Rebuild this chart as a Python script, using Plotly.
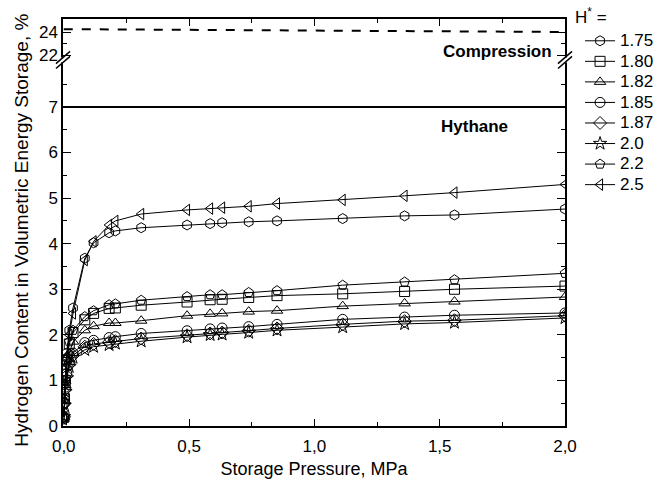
import plotly.graph_objects as go

# ---------------- data ----------------
P_LOW = [0.001, 0.003, 0.006, 0.012, 0.022, 0.037]
P_MAIN = [0.084, 0.119, 0.181, 0.206, 0.309, 0.492, 0.584, 0.632, 0.738, 0.851,
          1.113, 1.36, 1.559, 2.0]

h_labels = ["1.75", "1.80", "1.82", "1.85", "1.87", "2.0", "2.2", "2.5"]

low_175 = [0.15, 0.5, 1.0, 1.6, 2.1, 2.59]
main_175 = [3.68, 4.02, 4.24, 4.28, 4.35, 4.41, 4.44, 4.46, 4.48, 4.50, 4.55, 4.61, 4.63, 4.76]

low_180 = [0.2, 0.6, 1.0, 1.45, 1.8, 2.05]
main_180 = [2.33, 2.47, 2.58, 2.59, 2.65, 2.72, 2.77, 2.78, 2.82, 2.86, 2.90, 2.95, 3.00, 3.07]

low_182 = [0.2, 0.55, 0.9, 1.3, 1.6, 1.85]
main_182 = [2.10, 2.19, 2.26, 2.26, 2.31, 2.42, 2.46, 2.47, 2.51, 2.53, 2.63, 2.69, 2.73, 2.83]

low_185 = [0.2, 0.5, 0.85, 1.15, 1.4, 1.6]
main_185 = [1.83, 1.88, 1.94, 1.96, 2.03, 2.09, 2.13, 2.15, 2.18, 2.23, 2.34, 2.39, 2.43, 2.48]

low_187 = [0.2, 0.5, 0.8, 1.1, 1.35, 1.55]
main_187 = [1.74, 1.80, 1.84, 1.86, 1.92, 1.99, 2.03, 2.05, 2.09, 2.14, 2.23, 2.30, 2.32, 2.42]

low_20 = [0.2, 0.45, 0.75, 1.05, 1.3, 1.5]
main_20 = [1.67, 1.74, 1.78, 1.81, 1.86, 1.95, 2.00, 2.01, 2.05, 2.10, 2.17, 2.24, 2.27, 2.37]

low_22 = [0.2, 0.6, 1.0, 1.5, 1.85, 2.1]
main_22 = [2.40, 2.53, 2.66, 2.68, 2.76, 2.84, 2.88, 2.88, 2.93, 2.97, 3.09, 3.16, 3.21, 3.35]

low_25 = [0.15, 0.5, 0.95, 1.5, 2.0, 2.47]
main_25 = [3.64, 4.05, 4.41, 4.50, 4.65, 4.74, 4.77, 4.79, 4.82, 4.88, 4.96, 5.05, 5.12, 5.30]

series_values = [low_175 + main_175, low_180 + main_180, low_182 + main_182,
                 low_185 + main_185, low_187 + main_187, low_20 + main_20,
                 low_22 + main_22, low_25 + main_25]
symbols = ["hexagon-open", "square-open", "triangle-up-open", "circle-open",
           "diamond-open", "star-open", "pentagon-open", "triangle-left-open"]

compression_x = [0.0, 0.5, 1.0, 1.5, 2.0]
compression_y = [24.25, 24.2, 24.12, 24.06, 24.0]
hythane_x = [-0.003, 2.0]
hythane_y = [7.0, 7.0]

x_ticks = [0.0, 0.5, 1.0, 1.5, 2.0]
x_ticktext = ["0,0", "0,5", "1,0", "1,5", "2,0"]
y_low_ticks = [0, 1, 2, 3, 4, 5, 6, 7]
y_up_ticks = [22, 24]

FONT = "Liberation Sans, Arial, sans-serif"
BREAK = 0.8993

fig = go.Figure()

x_all = P_LOW + P_MAIN
for lab, vals, sym in zip(h_labels, series_values, symbols):
    fig.add_trace(go.Scatter(
        x=x_all, y=vals, mode="lines+markers",
        name="<span style='font-size:17px'>" + lab + "</span>",
        line=dict(color="black", width=1),
        marker=dict(symbol=sym, size=10, color="black", line=dict(width=1, color="black")),
        xaxis="x", yaxis="y"))

fig.add_trace(go.Scatter(x=hythane_x, y=hythane_y, mode="lines", showlegend=False,
                         line=dict(color="black", width=2), xaxis="x", yaxis="y"))
fig.add_trace(go.Scatter(x=compression_x, y=compression_y, mode="lines", showlegend=False,
                         line=dict(color="black", width=2, dash="dash"),
                         xaxis="x2", yaxis="y2"))

axis_common = dict(showline=True, linecolor="black", linewidth=1.5, ticks="inside",
                   tickcolor="black", showgrid=False, zeroline=False, automargin=False,
                   tickfont=dict(family=FONT, size=17, color="black"))

fig.update_layout(
    width=653, height=479,
    margin=dict(l=63, r=88, t=19, b=53, autoexpand=False),
    plot_bgcolor="white", paper_bgcolor="white",
    font=dict(family=FONT, size=16, color="black"),
    xaxis=dict(**axis_common, range=[-0.003, 2.0], domain=[0, 1], anchor="y",
               tickvals=x_ticks, ticktext=x_ticktext, ticklen=7, ticklabelstandoff=4,
               minor=dict(tickvals=[0.25, 0.75, 1.25, 1.75], ticklen=4, ticks="inside",
                          tickcolor="black"),
               title=dict(text="Storage Pressure, MPa", font=dict(size=18), standoff=12)),
    xaxis2=dict(**axis_common, range=[-0.003, 2.0], domain=[0, 1], anchor="y2",
                side="top", matches="x", showticklabels=False,
                tickvals=x_ticks, ticklen=7,
                minor=dict(tickvals=[0.25, 0.75, 1.25, 1.75], ticklen=4, ticks="inside",
                           tickcolor="black")),
    yaxis=dict(**axis_common, range=[0, 8.03], domain=[0, BREAK], anchor="x",
               mirror="ticks", tickvals=y_low_ticks, ticklen=8,
               minor=dict(tickvals=[0.5, 1.5, 2.5, 3.5, 4.5, 5.5, 6.5, 7.5], ticklen=4,
                          ticks="inside", tickcolor="black")),
    yaxis2=dict(**axis_common, range=[21.57, 25.13], domain=[BREAK, 1], anchor="x2",
                mirror="ticks", tickvals=y_up_ticks, ticklen=8,
                minor=dict(tickvals=[23], ticklen=4, ticks="inside", tickcolor="black")),
    legend=dict(x=1.03, y=0.984, xanchor="left", yanchor="top",
                bgcolor="rgba(0,0,0,0)", font=dict(family=FONT, size=13.5),
                tracegroupgap=0, itemwidth=30),
    showlegend=True,
)

fig.add_annotation(text="H<sup>*</sup> =", xref="paper", yref="paper",
                   x=1.016, y=1.007, xanchor="left", yanchor="middle",
                   showarrow=False, font=dict(family=FONT, size=17, color="black"))

# y-axis title as annotation spanning both segments
fig.add_annotation(text="Hydrogen Content in Volumetric Energy Storage, %",
                   xref="paper", yref="paper", x=-0.082, y=0.482, textangle=-90,
                   xanchor="center", yanchor="middle",
                   showarrow=False, font=dict(family=FONT, size=19, color="black"))

fig.add_annotation(text="<b>Compression</b>", x=1.73, y=22.3, xref="x2", yref="y2",
                   showarrow=False, font=dict(family=FONT, size=17, color="black"))
fig.add_annotation(text="<b>Hythane</b>", x=1.64, y=6.56, xref="x", yref="y",
                   showarrow=False, font=dict(family=FONT, size=17, color="black"))

# axis break marks
for xp in (0.0, 1.0):
    fig.add_shape(type="line", xref="paper", yref="paper",
                  x0=xp, x1=xp, y0=BREAK - 0.006, y1=BREAK + 0.006,
                  line=dict(color="white", width=4), layer="above")
    for dy in (-0.006, 0.006):
        fig.add_shape(type="line", xref="paper", yref="paper",
                      x0=xp - 0.014, x1=xp + 0.014,
                      y0=BREAK + dy - 0.015, y1=BREAK + dy + 0.015,
                      line=dict(color="black", width=1.5), layer="above")

fig.write_html("out.html")
